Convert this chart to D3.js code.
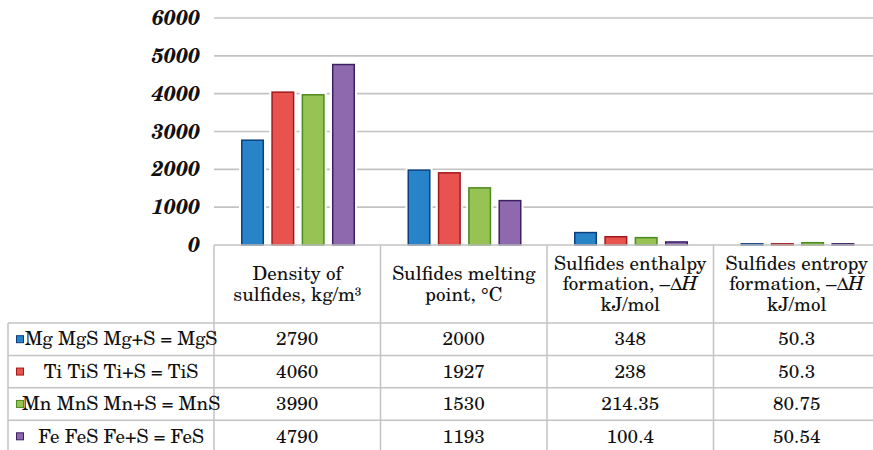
<!DOCTYPE html>
<html>
<head>
<meta charset="utf-8">
<script src="https://cdn.jsdelivr.net/npm/d3@7"></script>
<style>
  body { margin: 0; background: #fff; }
  svg { display: block; }
  svg text { font-family: 'TeX Gyre Schola', 'DejaVu Serif', serif; fill: #111; }
</style>
</head>
<body>
<svg id="chart" width="873" height="450"></svg>
<script>
// Column headers of the data table (one entry per category, one string per line)
const categories = [
  ["Density of", "sulfides, kg/m³"],
  ["Sulfides melting", "point, °C"],
  ["Sulfides enthalpy", "formation, –ΔH", "kJ/mol"],
  ["Sulfides entropy", "formation, –ΔH", "kJ/mol"]
];

// Series (rows of the data table)
const series = ["Mg MgS Mg+S = MgS", "Ti TiS Ti+S = TiS", "Mn MnS Mn+S = MnS", "Fe FeS Fe+S = FeS"];

const mgValues = [2790, 2000, 348, 50.3];
const tiValues = [4060, 1927, 238, 50.3];
const mnValues = [3990, 1530, 214.35, 80.75];
const feValues = [4790, 1193, 100.4, 50.54];

const yTicks = [0, 1000, 2000, 3000, 4000, 5000, 6000];

const fills = ["#2784c8", "#e8524f", "#97c355", "#8e69ad"];
const strokes = ["#0d3f7e", "#a3181a", "#4b8a1d", "#3b2164"];

const values = [mgValues, tiValues, mnValues, feValues];

const svg = d3.select("#chart");
const fontStack = "'TeX Gyre Schola', 'DejaVu Serif', serif";
const gridColor = "#c3c3c3";
const textSize = 19;

// Layout
const plotLeft = 214, plotRight = 880;
const headerTop = 245, headerBottom = 323, tableBottom = 452.5;
const legendLeft = 8;

const y = d3.scaleLinear().domain([0, 6000]).range([245, 18]);

const x0 = d3.scaleBand()
  .domain(d3.range(categories.length))
  .range([plotLeft, plotRight]);

const x1 = d3.scaleBand()
  .domain(d3.range(series.length))
  .range([27, 141])
  .paddingInner(0.24)
  .paddingOuter(0);

const rowY = d3.scaleBand()
  .domain(d3.range(series.length))
  .range([headerBottom, tableBottom]);

// Gridlines
svg.append("g")
  .selectAll("line")
  .data(yTicks.filter(d => d > 0))
  .join("line")
  .attr("x1", plotLeft).attr("x2", 873)
  .attr("y1", d => y(d)).attr("y2", d => y(d))
  .attr("stroke", gridColor)
  .attr("stroke-width", 1.6);

// Y tick labels
svg.append("g")
  .selectAll("text")
  .data(yTicks)
  .join("text")
  .attr("x", 200)
  .attr("y", d => y(d))
  .attr("dy", "0.34em")
  .attr("text-anchor", "end")
  .attr("font-family", fontStack)
  .attr("font-weight", "bold")
  .attr("font-style", "italic")
  .attr("font-size", 21)
  .text(d => d);

// Bars
const barData = [];
values.forEach((vals, s) => vals.forEach((v, c) => barData.push({ s, c, v })));

const bars = svg.append("g");
bars.selectAll("rect.halo")
  .data(barData)
  .join("rect")
  .attr("class", "halo")
  .attr("x", d => x0(d.c) + x1(d.s))
  .attr("y", d => y(d.v))
  .attr("width", x1.bandwidth())
  .attr("height", d => y(0) - y(d.v))
  .attr("fill", "#fff")
  .attr("stroke", "#fff")
  .attr("stroke-width", 4);

bars.selectAll("rect.bar")
  .data(barData)
  .join("rect")
  .attr("class", "bar")
  .attr("x", d => x0(d.c) + x1(d.s) + 0.75)
  .attr("y", d => y(d.v) + 0.75)
  .attr("width", x1.bandwidth() - 1.5)
  .attr("height", d => Math.max(0, y(0) - y(d.v) - 0.75))
  .attr("fill", d => fills[d.s])
  .attr("stroke", d => strokes[d.s])
  .attr("stroke-width", 1.5);

// Data table borders
const table = svg.append("g").attr("stroke", gridColor).attr("stroke-width", 1.5);
// top border (category axis)
table.append("line").attr("x1", plotLeft).attr("x2", 873).attr("y1", headerTop).attr("y2", headerTop);
// vertical separators between categories
table.selectAll("line.v")
  .data(d3.range(categories.length))
  .join("line")
  .attr("class", "v")
  .attr("x1", d => x0(d)).attr("x2", d => x0(d))
  .attr("y1", headerTop).attr("y2", 450);
// left border of the legend column
table.append("line").attr("x1", legendLeft).attr("x2", legendLeft).attr("y1", headerBottom).attr("y2", 450);
// horizontal row lines
table.selectAll("line.h")
  .data(d3.range(series.length))
  .join("line")
  .attr("class", "h")
  .attr("x1", legendLeft).attr("x2", 873)
  .attr("y1", d => rowY(d)).attr("y2", d => rowY(d));

// Column headers: one multi-line text element per category
const headerMid = (headerTop + headerBottom) / 2;
const lineGap = 20.5;
const headers = svg.append("g")
  .attr("font-family", fontStack)
  .attr("font-size", textSize)
  .attr("text-anchor", "middle");

categories.forEach((lines, c) => {
  const cx = x0(c) + x0.bandwidth() / 2;
  const startY = headerMid - (lines.length - 1) * lineGap / 2;
  const t = headers.append("text").attr("x", cx).attr("y", startY);
  lines.forEach((ln, i) => {
    const row = t.append("tspan")
      .attr("x", cx)
      .attr("y", startY + i * lineGap)
      .attr("dy", "0.33em");
    if (ln.endsWith("ΔH")) {
      row.append("tspan").text(ln.slice(0, -1));
      row.append("tspan").attr("font-style", "italic").text("H");
    } else {
      row.text(ln);
    }
  });
});

// Legend keys and labels
const legend = svg.append("g")
  .attr("font-family", fontStack)
  .attr("font-size", textSize);

series.forEach((name, s) => {
  const cy = rowY(s) + rowY.bandwidth() / 2;
  legend.append("rect")
    .attr("x", 16.5).attr("y", cy - 3.5)
    .attr("width", 7).attr("height", 7)
    .attr("fill", fills[s])
    .attr("stroke", strokes[s])
    .attr("stroke-width", 1);
  legend.append("text")
    .attr("x", 121)
    .attr("y", cy)
    .attr("dy", "0.33em")
    .attr("text-anchor", "middle")
    .text(name);
});

// Table values
const cells = svg.append("g")
  .attr("font-family", fontStack)
  .attr("font-size", textSize)
  .attr("text-anchor", "middle");

cells.selectAll("text")
  .data(barData)
  .join("text")
  .attr("x", d => x0(d.c) + x0.bandwidth() / 2)
  .attr("y", d => rowY(d.s) + rowY.bandwidth() / 2)
  .attr("dy", "0.33em")
  .text(d => String(d.v));
</script>
</body>
</html>
